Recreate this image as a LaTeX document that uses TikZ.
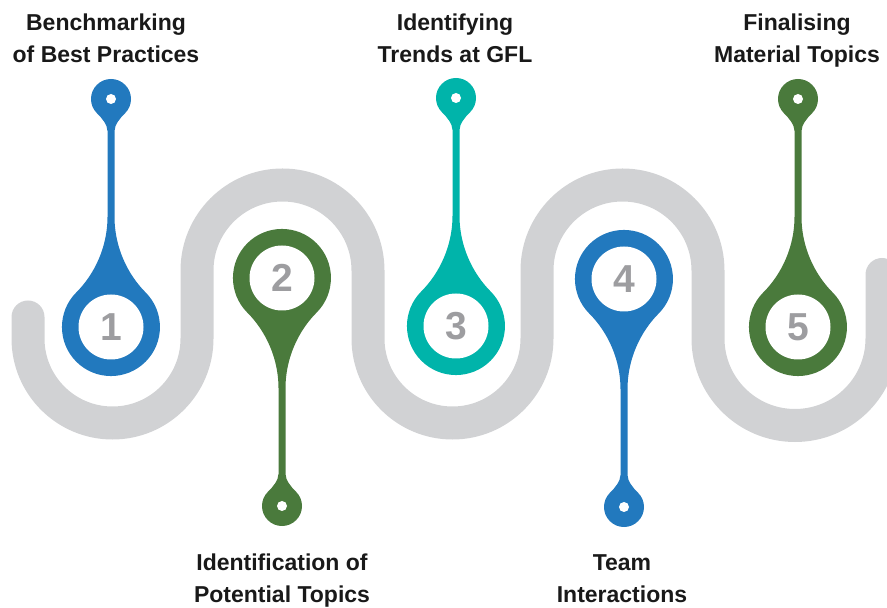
\documentclass[tikz,border=0pt]{standalone}
\usepackage{fontspec}
\setmainfont{Liberation Sans}

\definecolor{pinblue}{HTML}{2279BE}
\definecolor{pingreen}{HTML}{4A7A3C}
\definecolor{pinteal}{HTML}{00B4AA}
\definecolor{track}{HTML}{D1D2D4}
\definecolor{numgrey}{HTML}{9D9DA0}

\tikzset{
  steplabel/.style={font=\fontsize{23}{32}\selectfont\bfseries, align=center, inner sep=0pt, text=black!90},
  stepnum/.style={font=\fontsize{39}{39}\selectfont\bfseries, text=numgrey},
}

% drop pin: centre, direction (1 up, -1 down), colour
\newcommand\droppin[3]{%
  \begin{scope}[shift={#1}, yscale=#2]
    \fill[#3] (-3.5,110) -- (-3.5,196)
      .. controls (-3.5,202) and (-9,209) .. (-14.14,213.86)
      arc[start angle=225, end angle=-45, radius=20]
      .. controls (9,209) and (3.5,202) .. (3.5,196) -- (3.5,110)
      .. controls (3.5,80) and (16.6,52.6) .. (34.6,34.6)
      arc[start angle=45, end angle=-225, radius=49]
      .. controls (-16.6,52.6) and (-3.5,80) .. cycle;
    \fill[white] (0,0) circle (32.5);
    \fill[white] (0,228) circle (5);
  \end{scope}}

\begin{document}
\begin{tikzpicture}[x=1pt,y=1pt]
\useasboundingbox (0,0) rectangle (887,608);

% the winding road
\draw[track, line width=33pt, line cap=round]
  (28,291) -- (28,269.5) arc[start angle=180, end angle=360, radius=84.5]
  -- (197,337.5) arc[start angle=180, end angle=0, radius=85.5]
  -- (368,269.5) arc[start angle=180, end angle=360, radius=84.5]
  -- (537,337.5) arc[start angle=180, end angle=0, radius=85.5]
  -- (708,269.5) arc[start angle=180, end angle=360, radius=87]
  -- (882,333.5);

% pins, numbers and labels
\foreach \i/\x/\y/\d/\c/\lx/\ly/\t in {
  1/111/281/1/pinblue/106/594/{Benchmarking\\of Best Practices},
  2/282/330/-1/pingreen/282/54/{Identification of\\Potential Topics},
  3/456/282/1/pinteal/455/594/{Identifying\\Trends at GFL},
  4/624/329/-1/pinblue/622/54/{Team\\Interactions},
  5/798/281/1/pingreen/797/594/{Finalising\\Material Topics}}
{
  \droppin{(\x,\y)}{\d}{\c}
  \node[stepnum] (num\i) at (\x,\y) {\i};
  \node[steplabel, anchor=north] (label\i) at (\lx,\ly) {\t};
}
\end{tikzpicture}
\end{document}
